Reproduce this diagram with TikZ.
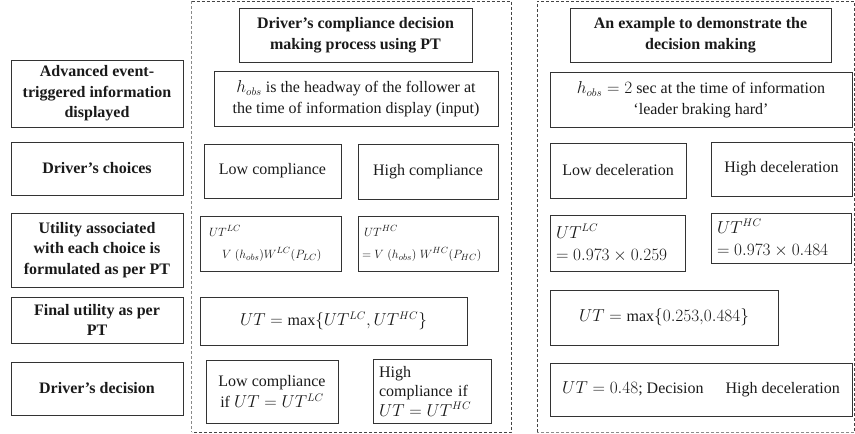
\documentclass[tikz,border=0pt]{standalone}
\usepackage{fontspec}
\setmainfont{Liberation Serif}
\definecolor{boxc}{HTML}{333333}
\definecolor{txt}{HTML}{1A1A1A}
\definecolor{dashdark}{HTML}{444444}
\definecolor{dashlight}{HTML}{8A8A8A}
\tikzset{
  box/.style={draw=boxc, line width=0.9pt, inner sep=0pt, align=center, text=txt,
    font=\fontsize{16}{20.5}\selectfont},
  lbl/.style={box, font=\fontsize{16}{20.5}\selectfont\bfseries},
  dsh/.style={line width=0.9pt, dash pattern=on 3pt off 2pt},
}
% name, x1, y1, x2, y2, options, text
\newcommand\bx[7]{\node[#6, minimum width={#4-#2}, minimum height={#5-#3}] (#1) at ({(#2+#4)/2},{(#3+#5)/2}) {#7};}
\begin{document}
\begin{tikzpicture}[x=1pt,y=-1pt]
\useasboundingbox (0,0) rectangle (855,434);
% dashed group frames
\coordinate (mtl) at (191.5,1);
\coordinate (mbr) at (511,432);
\draw[dsh, dashlight] (mtl) -- (mtl |- mbr);
\draw[dsh, dashdark] (mtl) -- (mtl -| mbr) -- (mbr) -- (mbr -| mtl);
\coordinate (rtl) at (537,1);
\coordinate (rbr) at (854,432);
\draw[dsh, dashdark] (rtl |- rbr) -- (rtl) -- (rtl -| rbr) -- (rbr);
\draw[dsh, dashlight] (rbr) -- (rbr -| rtl);
% left column
\bx{L1}{11}{60}{183}{127}{lbl}{Advanced event-\\triggered information\\displayed}
\bx{L2}{11}{142}{183}{195}{lbl}{Driver’s choices}
\bx{L3}{11}{213}{183}{287}{lbl}{Utility associated\\with each choice is\\formulated as per PT}
\bx{L4}{11}{297}{183}{343}{lbl}{Final utility as per\\PT}
\bx{L5}{11}{362}{183}{415}{lbl}{Driver’s decision}
% middle column
\bx{M0}{239}{8}{472}{62}{lbl}{Driver’s compliance decision\\making process using PT}
\bx{M1}{214}{71}{498}{126}{box}{$h_{obs}$ is the headway of the follower at\\the time of information display (input)}
\bx{M2a}{204}{144}{341}{198}{box}{Low compliance}
\bx{M2b}{358}{144}{498}{199}{box}{High compliance}
\bx{M3a}{200}{216}{341}{271}{box, align=left, text width=123pt, font=\fontsize{13}{22}\selectfont}{$UT^{LC}$\\\hspace*{13pt}$V\;(h_{obs})W^{LC}(P_{LC})$}
\bx{M3b}{358}{216}{498}{271}{box, align=left, text width=132pt, font=\fontsize{13}{22}\selectfont}{\hspace*{2pt}$UT^{HC}$\\$=V\;(h_{obs})\;W^{HC}(P_{HC})$}
\bx{M4}{200}{297}{467}{345}{box}{$UT=\max\{UT^{LC},UT^{HC}\}$}
\bx{M5a}{206}{360}{338}{423}{box}{Low compliance\\if $UT=UT^{LC}$}
\bx{M5b}{373}{359}{491}{423}{box, align=left, text width=106pt, font=\fontsize{16}{19.5}\selectfont}{High\\compliance if\\$UT=UT^{HC}$}
% right column
\bx{R0}{570}{8}{831}{62}{lbl}{An example to demonstrate the\\decision making}
\bx{R1}{550}{72}{852}{127}{box}{$h_{obs}=2$ sec at the time of information\\‘leader braking hard’}
\bx{R2a}{550}{143}{686}{198}{box}{Low deceleration}
\bx{R2b}{711}{142}{852}{196}{box}{High deceleration}
\bx{R3a}{550}{215}{685}{271}{box, align=left, text width=123pt, font=\fontsize{16}{22}\selectfont}{$UT^{LC}$\\$=0.973\times0.259$}
\bx{R3b}{711}{213}{851}{263}{box, align=left, text width=128pt, font=\fontsize{16}{22}\selectfont}{$UT^{HC}$\\$=0.973\times0.484$}
\bx{R4}{550}{290}{778}{345}{box}{$UT=\max\{0.253{,}0.484\}$}
\bx{R5}{550}{363}{852}{416}{box}{$UT=0.48$; Decision\hspace{22pt}High deceleration}
\end{tikzpicture}
\end{document}
